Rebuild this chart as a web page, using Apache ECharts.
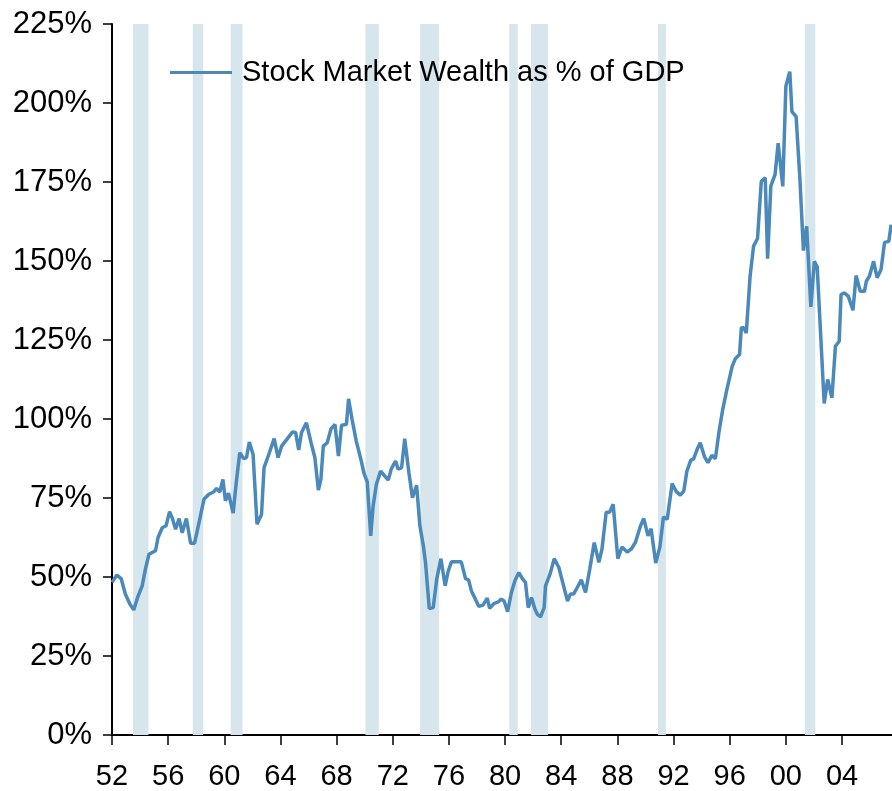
<!DOCTYPE html>
<html>
<head>
<meta charset="utf-8">
<script src="https://cdn.jsdelivr.net/npm/echarts@6/dist/echarts.min.js"></script>
<style>
html,body{margin:0;padding:0;background:#fff;}
#chart{width:892px;height:791px;}
</style>
</head>
<body>
<div id="chart"></div>
<script>
const seriesName = 'Stock Market Wealth as % of GDP';
const dates = [
1952.00,1952.35,1952.65,1952.95,1953.28,1953.55,1953.83,1954.15,1954.38,1954.63,
1955.10,1955.28,1955.58,1955.85,1956.10,1956.28,1956.53,1956.78,1957.00,1957.30,
1957.60,1957.88,1958.20,1958.55,1958.90,1959.23,1959.45,1959.68,1959.90,1960.08,
1960.30,1960.63,1960.85,1961.10,1961.38,1961.58,1961.78,1962.05,1962.33,1962.65,
1962.83,1963.13,1963.55,1963.83,1964.08,1964.55,1964.85,1965.08,1965.30,1965.50,
1965.85,1966.18,1966.45,1966.70,1966.88,1967.05,1967.33,1967.60,1967.88,1968.13,
1968.35,1968.70,1968.85,1969.10,1969.40,1969.73,1969.95,1970.18,1970.43,1970.60,
1970.83,1971.13,1971.38,1971.68,1971.90,1972.20,1972.38,1972.63,1972.85,1973.15,
1973.40,1973.70,1973.93,1974.18,1974.33,1974.60,1974.88,1975.13,1975.43,1975.73,
1975.95,1976.18,1976.88,1977.18,1977.40,1977.60,1977.83,1978.13,1978.43,1978.73,
1978.90,1979.20,1979.50,1979.73,1979.93,1980.18,1980.45,1980.70,1980.98,1981.23,
1981.45,1981.65,1981.88,1982.13,1982.30,1982.53,1982.78,1982.88,1983.20,1983.50,
1983.83,1984.23,1984.45,1984.65,1984.88,1985.18,1985.43,1985.73,1986.03,1986.35,
1986.68,1986.90,1987.20,1987.45,1987.70,1988.03,1988.33,1988.70,1988.98,1989.28,
1989.65,1989.88,1990.18,1990.40,1990.73,1991.03,1991.28,1991.55,1991.90,1992.20,
1992.48,1992.73,1992.95,1993.23,1993.43,1993.68,1993.90,1994.20,1994.45,1994.73,
1994.98,1995.23,1995.50,1995.80,1996.18,1996.40,1996.70,1996.83,1997.00,1997.18,
1997.45,1997.70,1997.98,1998.25,1998.53,1998.70,1998.93,1999.23,1999.45,1999.78,
2000.00,2000.28,2000.43,2000.73,2001.00,2001.25,2001.48,2001.78,2002.03,2002.23,
2002.73,2002.98,2003.28,2003.53,2003.80,2003.93,2004.18,2004.45,2004.78,2005.00,
2005.30,2005.60,2005.73,2005.95,2006.25,2006.50,2006.78,2007.03,2007.33,2007.50
];
const wealth = [
48.3,50.6,49.5,44.6,41.4,39.6,43.6,47.2,52.5,57.2,
58.3,62.5,65.6,66.2,70.7,68.8,65.1,68.5,64.0,68.5,
60.7,60.7,67.2,74.6,76.2,76.9,78.0,76.9,80.9,74.1,
76.5,70.2,79.9,89.3,87.5,87.8,92.7,88.8,66.7,69.8,
84.6,88.3,93.8,87.8,91.4,94.1,95.9,95.7,90.2,95.7,
98.8,92.5,87.8,77.5,80.9,91.4,92.5,96.9,98.3,88.3,
98.0,98.3,106.4,99.9,93.0,87.2,82.8,80.1,63.0,72.5,
79.3,83.5,82.2,80.7,84.3,86.7,84.1,84.6,93.8,83.0,
75.1,79.0,66.2,59.8,54.6,40.0,40.3,49.3,55.8,47.2,
51.9,54.8,54.8,49.5,49.1,45.6,43.5,40.7,41.1,43.3,
40.1,41.6,42.1,43.0,42.4,39.0,45.1,48.8,51.4,49.5,
48.3,40.3,43.5,39.8,38.2,37.4,40.3,47.2,50.9,55.8,
53.0,46.1,42.4,44.6,44.6,47.0,49.1,45.1,52.5,60.9,
54.6,58.8,70.4,70.6,73.0,55.8,59.5,57.9,58.8,60.9,
66.2,68.5,63.0,65.3,54.4,59.6,69.0,68.3,79.6,77.0,
75.9,77.2,83.5,87.0,87.4,90.4,92.5,88.1,86.2,88.5,
87.4,95.7,103.0,109.4,116.7,119.1,120.4,128.9,128.9,127.2,
145.1,154.7,157.1,175.2,176.3,150.7,173.8,177.3,187.3,173.6,
205.4,209.9,197.3,195.7,176.0,153.3,161.0,135.5,149.9,148.2,
104.9,112.5,106.7,123.0,124.6,139.4,139.9,138.8,134.4,145.4,
140.4,140.4,143.6,145.2,149.9,144.7,147.3,155.9,156.2,161.5
];
const recessionStarts = [1953.50,1957.75,1960.45,1970.05,1973.95,1980.30,1981.85,1990.90,2001.35];
const recessionEnds   = [1954.60,1958.50,1961.30,1971.00,1975.30,1980.90,1983.05,1991.45,2002.10];
const xTickYears = [1952,1956,1960,1964,1968,1972,1976,1980,1984,1988,1992,1996,2000,2004];
const yTicks = [0,25,50,75,100,125,150,175,200,225];

const lineData = dates.map((d, i) => [d, wealth[i]]);
const bands = recessionStarts.map((s, i) => [{xAxis: s}, {xAxis: recessionEnds[i]}]);

const chart = echarts.init(document.getElementById('chart'), null, {renderer: 'canvas'});
const FONT = 'Liberation Sans, Arial, sans-serif';
chart.setOption({
  animation: false,
  backgroundColor: '#ffffff',
  grid: {left: 112, right: 0, top: 24, bottom: 55, containLabel: false},
  legend: {
    show: true,
    left: 170,
    top: 58,
    padding: 0,
    itemWidth: 62,
    itemHeight: 3,
    itemGap: 10,
    icon: 'rect',
    textStyle: {fontFamily: FONT, fontSize: 29, color: '#000', padding: [0, 0, 0, 5]},
    data: [{name: seriesName, icon: 'rect', itemStyle: {color: '#4a89ba'}}]
  },
  xAxis: {
    type: 'value',
    min: 1952,
    max: 2007.56,
    interval: 4,
    axisLine: {show: true, onZero: false, lineStyle: {color: '#000', width: 2}},
    axisTick: {show: true, length: 10, customValues: xTickYears, lineStyle: {color: '#000', width: 1.5}},
    axisLabel: {
      show: true, margin: 27, customValues: xTickYears,
      fontFamily: FONT, fontSize: 29, color: '#000',
      formatter: v => String(Math.round(v) % 100).padStart(2, '0')
    },
    splitLine: {show: false}
  },
  yAxis: {
    type: 'value',
    min: yTicks[0],
    max: yTicks[yTicks.length - 1],
    interval: 25,
    axisLine: {show: true, lineStyle: {color: '#000', width: 2}},
    axisTick: {show: true, length: 9, lineStyle: {color: '#000', width: 1.5}},
    axisLabel: {show: true, margin: 20, fontFamily: FONT, fontSize: 31, color: '#000', formatter: '{value}%'},
    splitLine: {show: false}
  },
  series: [{
    name: seriesName,
    type: 'line',
    data: lineData,
    symbol: 'none',
    showSymbol: false,
    lineStyle: {color: '#4a89ba', width: 3.5},
    itemStyle: {color: '#4a89ba'},
    markArea: {
      silent: true,
      itemStyle: {color: '#d7e5ec'},
      data: bands
    },
    z: 3
  }]
});
</script>
</body>
</html>
